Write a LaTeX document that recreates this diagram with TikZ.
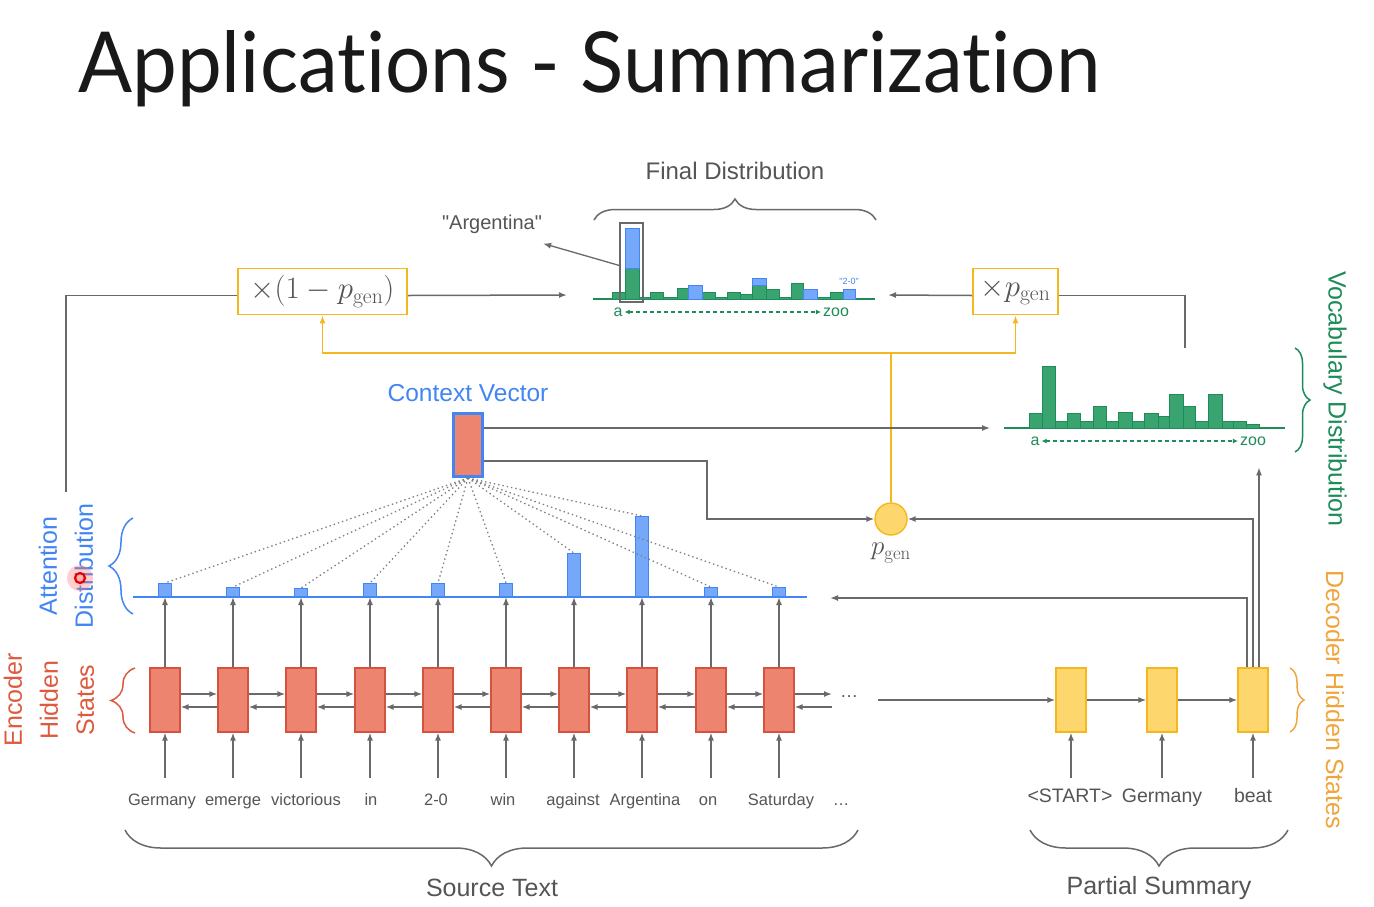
\RequirePackage{fix-cm}
\documentclass[tikz,border=0pt]{standalone}
\usepackage[no-math]{fontspec}
\setmainfont{Liberation Sans}
\newfontfamily\titlefont[Ligatures={NoCommon,NoRare,NoContextual}]{Lato}
\usetikzlibrary{arrows.meta,decorations.pathreplacing,calc}

\definecolor{lgray}{RGB}{105,105,105}
\definecolor{txtgray}{RGB}{85,85,85}
\definecolor{encfill}{RGB}{236,132,112}
\definecolor{encline}{RGB}{212,82,62}
\definecolor{attblue}{RGB}{66,133,244}
\definecolor{barblue}{RGB}{118,168,250}
\definecolor{vgreen}{RGB}{30,140,88}
\definecolor{vgreenfill}{RGB}{58,164,112}
\definecolor{ylw}{RGB}{244,184,30}
\definecolor{decfill}{RGB}{253,214,110}
\definecolor{decorange}{RGB}{240,165,60}
\definecolor{encred}{RGB}{222,90,62}

\tikzset{
  arr/.style={-{Latex[length=8pt,width=6pt]}},
  gline/.style={draw=lgray, line width=1.5pt},
  yline/.style={draw=ylw, line width=1.8pt},
  encbox/.style={draw=encline, fill=encfill, line width=1.2pt, minimum width=30pt,
    minimum height=64pt, inner sep=0pt},
  decbox/.style={draw=ylw, fill=decfill, line width=1.2pt, minimum width=30pt,
    minimum height=64pt, inner sep=0pt},
  attbar/.style={draw=attblue, fill=barblue, line width=1pt, minimum width=13pt,
    inner sep=0pt, anchor=south},
  vbar/.style={draw=vgreen, fill=vgreenfill, line width=1pt},
  fbar/.style={draw=attblue, fill=barblue, line width=1pt},
  word/.style={text=txtgray, font=\fontsize{16.5}{18}\selectfont, inner sep=0pt,
    text height=12pt, text depth=3pt, anchor=base},
  dword/.style={text=txtgray, font=\fontsize{19.5}{22}\selectfont, inner sep=0pt,
    text height=14pt, text depth=4pt, anchor=base},
  lbl/.style={font=\fontsize{25}{36}\selectfont, align=center, inner sep=0pt},
  axis/.style={text=vgreen, font=\fontsize{16}{18}\selectfont, inner sep=2pt},
  axarrow/.style={vgreen, line width=1.3pt, dash pattern=on 4pt off 3pt,
    {Latex[length=5pt,width=5pt]}-{Latex[length=5pt,width=5pt]}},
  mixbox/.style={draw=ylw, fill=white, line width=1.6pt, minimum height=46pt,
    inner sep=0pt, text=txtgray, font=\fontsize{31}{35}\selectfont},
  brc/.style={decorate, line width=1.5pt},
}

\begin{document}
\begin{tikzpicture}[x=1pt,y=-1pt]
\useasboundingbox (0,0) rectangle (1374,906);
\fill[white] (0,0) rectangle (1374,906);

% title
\node[anchor=base west, inner sep=0pt, text=black!90] (title) at (78,92)
  {\resizebox{1022pt}{62pt}{\titlefont Applicat\kern0pt ions - Summarizat\kern0pt ion}};

% ---------------- encoder ----------------
\foreach \i/\x in {1/165,2/233,3/301,4/370,5/438,6/506,7/574,8/642,9/711,10/779}
  \node[encbox] (e\i) at (\x,700) {};

\foreach \i/\x/\w in {1/162/Germany,2/233/emerge,3/306/victorious,4/371/in,5/436/2-0,
    6/503/win,7/573/against,8/645/Argentina,9/708/on,10/781/Saturday}
  \node[word] (w\i) at (\x,805) {\w};
\node[word] (wdots) at (841,805) {\dots};

\foreach \i in {1,...,10}
  \draw[gline,arr] ($(e\i.south |- w\i.north)+(0,-15)$) -- (e\i.south);

\foreach \i/\j in {1/2,2/3,3/4,4/5,5/6,6/7,7/8,8/9,9/10} {
  \draw[gline,arr] ($(e\i.east)+(0,-6)$) -- ($(e\j.west)+(0,-6)$);
  \draw[gline,arr] ($(e\j.west)+(0,7)$) -- ($(e\i.east)+(0,7)$);
}
\coordinate (encend) at (832,700);
\draw[gline,arr] ($(e10.east)+(0,-6)$) -- ($(encend)+(0,-6)$);
\draw[gline,arr] ($(encend)+(0,7)$) -- ($(e10.east)+(0,7)$);
\node[text=txtgray, font=\fontsize{18}{20}\selectfont, inner sep=0pt] (edots) at (849,697) {\dots};
\coordinate (decin) at (878,700);

% ---------------- attention distribution ----------------
\coordinate (attL) at (133,597);
\coordinate (attR) at (807,597);
\draw[draw=attblue, line width=1.5pt] (attL) -- (attR);
\foreach \i/\x/\h in {1/165/13,2/233/9,3/301/8,4/370/13,5/438/13,6/506/13,7/574/43,
    8/642/80,9/711/9,10/779/9}
  \node[attbar, minimum height=\h pt] (a\i) at (\x,597) {};
\foreach \i in {1,...,10}
  \draw[gline,arr] (e\i.north) -- (a\i.south);

% ---------------- context vector ----------------
\node[draw=attblue, fill=encfill, line width=3pt, minimum width=29pt, minimum height=63pt,
  inner sep=0pt] (cv) at (468,445) {};
\node[lbl, text=attblue, font=\fontsize{24.5}{30}\selectfont] (cvlab) at (468,393) {Context Vector};
\foreach \i in {1,...,10}
  \draw[lgray!85, dash pattern=on 1.4pt off 3pt, line width=1.3pt] (cv.south) -- (a\i.north);

% ---------------- p_gen ----------------
\node[circle, draw=ylw, fill=decfill, line width=1.4pt, minimum size=32pt, inner sep=0pt]
  (pg) at (891,519) {};
\node[text=txtgray, font=\fontsize{27}{30}\selectfont, inner sep=0pt] (pglab) at (891,553)
  {$p_{\mathrm{gen}}$};
\draw[gline,arr] ($(cv.east)+(0,16)$) -- ++(223,0) |- (pg.west);

% ---------------- mixing boxes ----------------
\node[mixbox, minimum width=169pt] (mix1) at (322.5,291.5) {$\times(1-p_{\mathrm{gen}})$};
\node[mixbox, minimum width=85pt] (mix2) at (1015.5,291.5) {$\times p_{\mathrm{gen}}$};
\coordinate (yj) at (891,353);
\draw[yline,arr] (pg.north) -- (yj) -| (mix1.south);
\draw[yline,arr] (yj) -| (mix2.south);

\coordinate (attout) at (66,492);
\coordinate (finL) at (567,295);
\coordinate (finR) at (888,295);
\coordinate (vtop) at (1185,348);
\draw[gline] (attout) |- ($(mix1.west)+(0,4)$);
\draw[gline,arr] ($(mix1.east)+(0,4)$) -- (finL);
\draw[gline,arr] ($(mix2.west)+(0,4)$) -- (finR);
\draw[gline] ($(mix2.east)+(0,4)$) -| (vtop);

% ---------------- final distribution ----------------
\draw[vgreen, line width=1.5pt] (593,299) -- (875,299);
\foreach \a/\b/\t in {612/625/292,625/639/268,639/650/297,650/663/292,663/677/297,
    677/688/288,702/715/292,715/727/297,727/740/292,740/752/294,752/766/285,
    766/779/289,779/791/297,791/803/283,817/830/297,830/843/292}
  \draw[vbar] (\a,299) rectangle (\b,\t);
\foreach \a/\b/\t/\u in {625/639/228/268,688/702/285/299,752/766/278/285,
    803/817/289/299,843/855/289/299}
  \draw[fbar] (\a,\u) rectangle (\b,\t);
\node[draw=lgray, line width=1.2pt, minimum width=23pt, minimum height=79pt, inner sep=0pt]
  (hl) at (631.5,262.5) {};
\node[text=txtgray, font=\fontsize{20}{22}\selectfont, inner sep=1pt] (arglab) at (492,224)
  {\textquotedbl Argentina\textquotedbl};
\draw[lgray, line width=1.3pt, arr] ($(hl.west)+(0,3)$) -- ($(arglab.south east)+(0,9)$);
\node[text=attblue, font=\fontsize{9}{10}\selectfont, inner sep=0pt] (twoz) at (849,281)
  {\textquotedbl 2-0\textquotedbl};
\node[axis] (fa) at (618,312) {a};
\node[axis] (fz) at (836,312) {zoo};
\draw[axarrow] (fa) -- (fz);
\draw[brc, lgray, decoration={brace, amplitude=21pt}] (594,220) -- (876,220);
\node[lbl, text=txtgray, font=\fontsize{24}{30}\selectfont] (finlab) at (735,171) {Final Distribution};

% ---------------- vocabulary distribution ----------------
\coordinate (vin) at (990,428);
\draw[gline,arr] ($(cv.east)+(0,-17)$) -- (vin);
\draw[vgreen, line width=1.5pt] (1004,428) -- (1285,428);
\foreach \a/\b/\t in {1029/1042/413,1042/1055/366,1055/1067/421,1067/1080/413,
    1080/1093/421,1093/1106/406,1106/1118/421,1118/1132/412,1132/1144/421,
    1144/1158/413,1158/1169/416,1169/1183/394,1183/1195/406,1195/1208/421,
    1208/1222/394,1222/1233/421,1233/1246/421,1246/1259/424}
  \draw[vbar] (\a,428) rectangle (\b,\t);
\node[axis] (va) at (1035,441) {a};
\node[axis] (vz) at (1253,441) {zoo};
\draw[axarrow] (va) -- (vz);
\draw[brc, vgreen, decoration={brace, amplitude=15pt}] (1295,348) -- (1295,452);
\node[lbl, text=vgreen, rotate=-90] (vlab) at (1335,399) {Vocabulary Distribution};

% ---------------- decoder ----------------
\foreach \i/\x in {1/1071,2/1162,3/1253}
  \node[decbox] (d\i) at (\x,700) {};
\node[dword] (dw1) at (1070,802) {<START>};
\node[dword] (dw2) at (1162,802) {Germany};
\node[dword] (dw3) at (1253,802) {beat};
\foreach \i in {1,2,3}
  \draw[gline,arr] ($(d\i.south |- dw\i.north)+(0,-10)$) -- (d\i.south);
\draw[gline,arr] (decin) -- (d1.west);
\draw[gline,arr] (d1.east) -- (d2.west);
\draw[gline,arr] (d2.east) -- (d3.west);

\coordinate (attin) at (830,598);
\draw[gline,arr] ($(d3.north)+(-6,0)$) |- (attin);
\draw[gline,arr] (d3.north) |- (pg.east);
\draw[gline,arr] ($(d3.north)+(6,0)$) -- ($(d3.north)+(6,-200)$);

\draw[brc, decorange, decoration={brace, amplitude=14pt}] (1290,668) -- (1290,732);
\node[lbl, text=decorange, rotate=-90] (dlab) at (1335,700) {Decoder Hidden States};

% ---------------- left side labels ----------------
\draw[brc, attblue, decoration={brace, amplitude=24pt}] (133,614) -- (133,518);
\node[lbl, text=attblue, rotate=90] (attlab) at (66,566) {Attention\\Distribution};
\draw[brc, encred, decoration={brace, amplitude=24pt}] (135,733) -- (135,668);
\node[lbl, text=encred, rotate=90] (enclab) at (49,700) {Encoder\\Hidden\\States};

% pointer marker
\fill[red!55, opacity=0.35] (80,578) circle[radius=13pt];
\draw[red!90!black, line width=2.2pt, fill=white!70!red] (80,578) circle[radius=5pt];

% ---------------- bottom braces ----------------
\draw[brc, lgray, decoration={brace, amplitude=36pt}] (858,830) -- (125,830);
\node[lbl, text=txtgray] (srclab) at (492,888) {Source Text};
\draw[brc, lgray, decoration={brace, amplitude=36pt}] (1288,830) -- (1030,830);
\node[lbl, text=txtgray] (sumlab) at (1159,888) {Partial Summary};
\end{tikzpicture}
\end{document}
